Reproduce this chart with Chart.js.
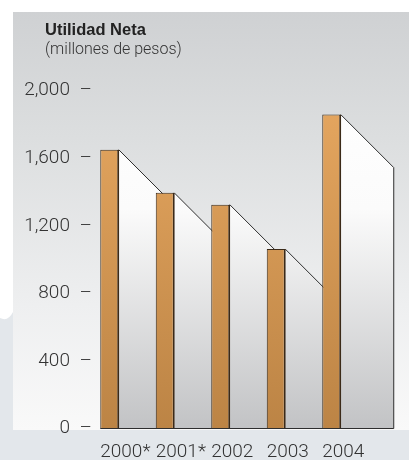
<!DOCTYPE html>
<html><head><meta charset="utf-8">
<script src="https://cdn.jsdelivr.net/npm/chart.js@4.4.0/dist/chart.umd.min.js"></script>
<style>html,body{margin:0;padding:0;background:#fff;}#wrap{width:409px;height:460px;position:relative;overflow:hidden}</style>
</head><body><div id="wrap"><canvas id="c" width="409" height="460"></canvas></div>
<script>
// ---- data ----
const categories = ['2000*', '2001*', '2002', '2003', '2004'];
const utilidadNeta = [1650, 1395, 1325, 1062, 1858];
const yTicks = [0, 400, 800, 1200, 1600, 2000];
const titleText = 'Utilidad Neta';
const subtitleText = '(millones de pesos)';

// ---- styles ----
const SHADOW_DEPTH = 53;
const LIGHT_FONT = "Roboto, 'Liberation Sans', sans-serif";

const backgroundPlugin = {
  id: 'bg',
  afterLayout(chart) {
    // let the y tick labels use the space to the left of the title indent
    const y = chart.scales.y;
    y.left = 0;
    y.width = y.right;
  },
  beforeDraw(chart) {
    const ctx = chart.ctx, W = chart.width, H = chart.height;
    ctx.save();
    ctx.fillStyle = '#ffffff';
    ctx.fillRect(0, 0, W, H);
    ctx.fillStyle = '#e3e7eb';
    ctx.fillRect(0, 430, W, H - 430);
    ctx.beginPath();
    ctx.moveTo(0, 318);
    ctx.quadraticCurveTo(8, 322, 13, 312);
    ctx.lineTo(13, 430);
    ctx.lineTo(0, 430);
    ctx.closePath();
    ctx.fill();
    const g = ctx.createLinearGradient(0, 12, 0, 430);
    g.addColorStop(0, '#cfd1d3');
    g.addColorStop(0.3, '#dcdedf');
    g.addColorStop(0.7, '#eeeff0');
    g.addColorStop(1, '#f9f9f9');
    ctx.fillStyle = g;
    ctx.fillRect(13, 12, W - 13, 418);
    ctx.restore();
  }
};

const shadowPlugin = {
  id: 'barShadows',
  beforeDatasetsDraw(chart) {
    const ctx = chart.ctx, a = chart.chartArea;
    const meta = chart.getDatasetMeta(0);
    ctx.save();
    meta.data.forEach((el, i) => {
      const p = el.getProps(['x', 'y', 'width', 'base'], true);
      const xr = p.x + p.width / 2 - 0.5;
      const x2 = xr + SHADOW_DEPTH;
      const yb = p.base;
      const g = ctx.createLinearGradient(0, a.top, 0, yb);
      g.addColorStop(0, '#ffffff');
      g.addColorStop(0.35, '#fbfbfb');
      g.addColorStop(1, '#c2c3c5');
      ctx.fillStyle = g;
      ctx.beginPath();
      ctx.moveTo(xr, p.y);
      ctx.lineTo(x2, p.y + SHADOW_DEPTH);
      ctx.lineTo(x2, yb);
      ctx.lineTo(xr, yb);
      ctx.closePath();
      ctx.fill();
      ctx.strokeStyle = '#2e2e2e';
      ctx.lineWidth = 1;
      ctx.beginPath();
      ctx.moveTo(xr, p.y);
      ctx.lineTo(x2, p.y + SHADOW_DEPTH);
      if (i === meta.data.length - 1) ctx.lineTo(x2, yb);
      ctx.stroke();
    });
    ctx.restore();
  },
  afterDatasetsDraw(chart) {
    const ctx = chart.ctx;
    const meta = chart.getDatasetMeta(0);
    const first = meta.data[0].getProps(['x', 'width', 'base'], true);
    const last = meta.data[meta.data.length - 1].getProps(['x', 'width', 'base'], true);
    ctx.save();
    ctx.strokeStyle = '#2e2e2e';
    ctx.lineWidth = 1.2;
    ctx.beginPath();
    ctx.moveTo(first.x - first.width / 2, first.base);
    ctx.lineTo(last.x + last.width / 2 - 0.5 + SHADOW_DEPTH, last.base);
    ctx.stroke();
    ctx.restore();
  }
};

new Chart(document.getElementById('c'), {
  type: 'bar',
  data: {
    labels: categories,
    datasets: [{
      label: titleText,
      data: utilidadNeta,
      backgroundColor: (c) => {
        const a = c.chart.chartArea;
        if (!a) return '#d99a55';
        const g = c.chart.ctx.createLinearGradient(0, a.top, 0, a.bottom);
        g.addColorStop(0, '#e6a760');
        g.addColorStop(1, '#bc8445');
        return g;
      },
      borderColor: '#3b2a18',
      borderWidth: { top: 1, left: 1, right: 2, bottom: 0 },
      borderSkipped: false,
      categoryPercentage: 0.937,
      barPercentage: 0.73
    }, {
      label: 'espacio',
      data: categories.map(() => null),
      categoryPercentage: 0.937,
      barPercentage: 0.73
    }]
  },
  options: {
    responsive: false,
    animation: false,
    devicePixelRatio: 1,
    layout: { padding: { left: 45, right: 36.5, top: 0, bottom: 0 } },
    plugins: {
      legend: { display: false },
      tooltip: { enabled: false },
      title: {
        display: true, text: titleText, align: 'start', color: '#222',
        font: { family: "'Liberation Sans', Arial, sans-serif", size: 16.5, weight: 'bold', lineHeight: 1.2 },
        padding: { top: 21, bottom: 0 }
      },
      subtitle: {
        display: true, text: subtitleText, align: 'start', color: '#333',
        font: { family: LIGHT_FONT, size: 16, weight: '300', lineHeight: 1.2 },
        padding: { top: 0, bottom: 30.6 }
      }
    },
    scales: {
      x: {
        grid: { display: false, drawTicks: false },
        border: { display: false },
        ticks: {
          align: 'start', labelOffset: -22.5, padding: 12, color: '#333',
          maxRotation: 0, minRotation: 0, autoSkip: false,
          font: { family: LIGHT_FONT, size: 19, weight: '300' }
        },
        afterFit: (s) => { s.height = 31.5; }
      },
      y: {
        min: yTicks[0], max: yTicks[yTicks.length - 1],
        grid: { display: false, drawTicks: false },
        border: { display: false },
        afterBuildTicks: (s) => { s.ticks = yTicks.map(v => ({ value: v })); },
        ticks: {
          padding: 3, color: '#333',
          font: { family: LIGHT_FONT, size: 19, weight: '300' },
          callback: (v) => v.toLocaleString('en-US') + '\u2002\u2013'
        },
        afterFit: (s) => { s.width = 50; }
      }
    }
  },
  plugins: [backgroundPlugin, shadowPlugin]
});
</script></body></html>
